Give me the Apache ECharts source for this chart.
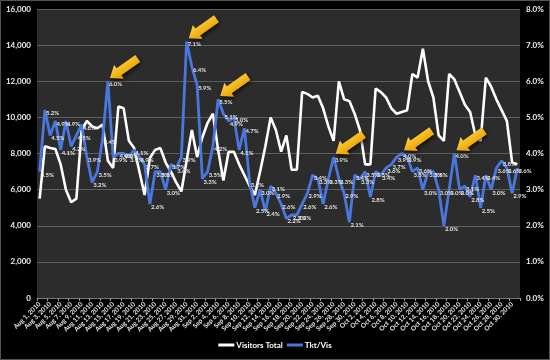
<!DOCTYPE html>
<html>
<head>
<meta charset="utf-8">
<script src="https://cdn.jsdelivr.net/npm/echarts@6/dist/echarts.min.js"></script>
<style>
html,body{margin:0;padding:0;background:#000;}
#chart{width:550px;height:360px;}
</style>
</head>
<body>
<div id="chart"></div>
<script>
var categories = [
"Aug 1, 2010","Aug 2, 2010","Aug 3, 2010","Aug 4, 2010","Aug 5, 2010","Aug 6, 2010","Aug 7, 2010","Aug 8, 2010","Aug 9, 2010","Aug 10, 2010",
"Aug 11, 2010","Aug 12, 2010","Aug 13, 2010","Aug 14, 2010","Aug 15, 2010","Aug 16, 2010","Aug 17, 2010","Aug 18, 2010","Aug 19, 2010","Aug 20, 2010",
"Aug 21, 2010","Aug 22, 2010","Aug 23, 2010","Aug 24, 2010","Aug 25, 2010","Aug 26, 2010","Aug 27, 2010","Aug 28, 2010","Aug 29, 2010","Aug 30, 2010",
"Aug 31, 2010","Sep 1, 2010","Sep 2, 2010","Sep 3, 2010","Sep 4, 2010","Sep 5, 2010","Sep 6, 2010","Sep 7, 2010","Sep 8, 2010","Sep 9, 2010",
"Sep 10, 2010","Sep 11, 2010","Sep 12, 2010","Sep 13, 2010","Sep 14, 2010","Sep 15, 2010","Sep 16, 2010","Sep 17, 2010","Sep 18, 2010","Sep 19, 2010",
"Sep 20, 2010","Sep 21, 2010","Sep 22, 2010","Sep 23, 2010","Sep 24, 2010","Sep 25, 2010","Sep 26, 2010","Sep 27, 2010","Sep 28, 2010","Sep 29, 2010",
"Sep 30, 2010","Oct 1, 2010","Oct 2, 2010","Oct 3, 2010","Oct 4, 2010","Oct 5, 2010","Oct 6, 2010","Oct 7, 2010","Oct 8, 2010","Oct 9, 2010",
"Oct 10, 2010","Oct 11, 2010","Oct 12, 2010","Oct 13, 2010","Oct 14, 2010","Oct 15, 2010","Oct 16, 2010","Oct 17, 2010","Oct 18, 2010","Oct 19, 2010",
"Oct 20, 2010","Oct 21, 2010","Oct 22, 2010","Oct 23, 2010","Oct 24, 2010","Oct 25, 2010","Oct 26, 2010","Oct 27, 2010","Oct 28, 2010","Oct 29, 2010",
"Oct 30, 2010","Oct 31, 2010"
];

var visitorsTotal = [
5500,8400,8300,8250,7400,6000,5300,5500,9300,9800,
9500,9400,9600,7600,7200,10600,10500,8700,8300,7000,
5700,7750,8200,8300,7500,7000,6400,5900,7600,9300,
7800,8900,9700,10200,8200,6500,8100,8100,7400,6800,
6200,5700,7000,8400,10000,9300,8100,9000,7100,7100,
11400,11300,11100,11200,10500,9500,8700,12000,11000,10900,
10200,9300,7400,7400,11600,11400,11100,10500,10200,10300,
10400,12400,12200,13800,12000,11100,9000,8700,12400,12100,
11400,10700,10300,9000,8700,12200,11700,11000,10400,9800,
7500,7400
];

var tktPerVis = [
3.5,5.2,4.5,4.9,4.1,4.9,4.2,4.5,4.8,3.9,
3.2,3.5,4.4,6.0,3.9,4.0,4.0,3.9,4.1,3.9,
3.7,2.6,3.5,3.5,3.0,3.7,3.6,3.9,7.1,6.4,
5.9,3.3,3.5,4.2,5.5,5.1,4.9,5.0,4.1,4.7,
3.2,2.5,3.0,2.4,3.1,2.9,2.6,2.2,2.3,2.3,
2.6,2.9,3.4,3.3,2.6,3.3,3.9,3.3,2.9,2.1,
3.4,3.3,3.5,2.8,3.5,3.4,3.6,3.7,3.9,4.0,
3.9,3.5,3.6,3.0,3.5,3.5,3.0,2.0,3.0,4.0,
3.0,3.1,2.8,3.4,2.5,3.4,3.0,3.6,3.8,3.6,
2.9,3.6
];

// indexes of the highlighted peaks (yellow arrows)
var arrowIdx = [13, 28, 34, 56, 69, 79];

var leftTicks = {min: 0, max: 16000, interval: 2000};
var rightTicks = {min: 0, max: 8, interval: 1};

var FONT = 'Lato';
var chart = echarts.init(document.getElementById('chart'), null, {renderer: 'canvas'});

var arrowPath = 'path://M0,10 L13,0 L13,5 L40,5 L40,15 L13,15 L13,20 Z';

var option = {
  backgroundColor: '#000',
  animation: false,
  textStyle: {fontFamily: FONT},
  grid: {
    left: 37, right: 30, top: 9, bottom: 62,
    show: true, backgroundColor: '#2c2c2c', borderWidth: 0
  },
  legend: {
    bottom: 6,
    left: 'center',
    itemWidth: 16, itemHeight: 3,
    itemGap: 4,
    icon: 'rect',
    textStyle: {color: '#fff', fontSize: 8, fontWeight: 'bold', fontFamily: FONT, padding: [0,0,0,-3]},
    data: ['Visitors Total', 'Tkt/Vis']
  },
  xAxis: {
    type: 'category',
    data: categories,
    boundaryGap: true,
    axisLine: {show: true, lineStyle: {color: '#777', width: 1}},
    axisTick: {show: true, interval: 1, length: 3, lineStyle: {color: '#999'}},
    axisLabel: {
      interval: 1, rotate: 45, color: '#e6e6e6', fontSize: 6.5, fontWeight: 'bold',
      fontFamily: FONT, margin: 5
    },
    splitLine: {show: false}
  },
  yAxis: [
    {
      type: 'value', min: leftTicks.min, max: leftTicks.max, interval: leftTicks.interval,
      axisLine: {show: false}, axisTick: {show: false},
      axisLabel: {
        color: '#f0f0f0', fontSize: 8, fontWeight: 'bold', fontFamily: FONT, margin: 6,
        formatter: function (v) { return v.toLocaleString('en-US'); }
      },
      splitLine: {show: true, lineStyle: {color: '#5e5e5e', width: 1}}
    },
    {
      type: 'value', min: rightTicks.min, max: rightTicks.max, interval: rightTicks.interval,
      axisLine: {show: false}, axisTick: {show: false},
      axisLabel: {
        color: '#f0f0f0', fontSize: 8, fontWeight: 'bold', fontFamily: FONT, margin: 6,
        formatter: function (v) { return v.toFixed(1) + '%'; }
      },
      splitLine: {show: false}
    }
  ],
  series: [
    {
      name: 'Visitors Total',
      type: 'line',
      yAxisIndex: 0,
      data: visitorsTotal,
      symbol: 'none',
      lineStyle: {color: '#ffffff', width: 2.6},
      itemStyle: {color: '#ffffff'},
      z: 2
    },
    {
      name: 'Tkt/Vis',
      type: 'line',
      yAxisIndex: 1,
      data: tktPerVis,
      symbol: 'circle',
      symbolSize: 0,
      showSymbol: true,
      lineStyle: {color: '#4a77dd', width: 2.8},
      itemStyle: {color: '#4a77dd'},
      label: {
        show: true, position: 'right', distance: 1, offset: [0, 3],
        color: '#e2e2e2', fontSize: 6, fontWeight: 'bold', fontFamily: FONT,
        formatter: function (p) { return p.value.toFixed(1) + '%'; }
      },
      markPoint: {
        silent: true,
        symbol: arrowPath,
        symbolSize: [34, 17],
        symbolRotate: 35,
        symbolOffset: [16, -13],
        label: {show: false},
        itemStyle: {
          color: new echarts.graphic.LinearGradient(0, 0, 0, 1, [
            {offset: 0, color: '#ffd23a'},
            {offset: 1, color: '#e89a00'}
          ]),
          shadowColor: 'rgba(0,0,0,0.7)', shadowBlur: 4, shadowOffsetX: 1, shadowOffsetY: 2
        },
        data: arrowIdx.map(function (i) { return {coord: [categories[i], tktPerVis[i]]}; })
      },
      z: 3
    }
  ],
  graphic: [{
    type: 'rect', silent: true, z: 100,
    shape: {x: 0.5, y: 0.5, width: 549, height: 359},
    style: {fill: 'none', stroke: '#555', lineWidth: 1}
  }]
};
chart.setOption(option);
</script>
</body>
</html>
